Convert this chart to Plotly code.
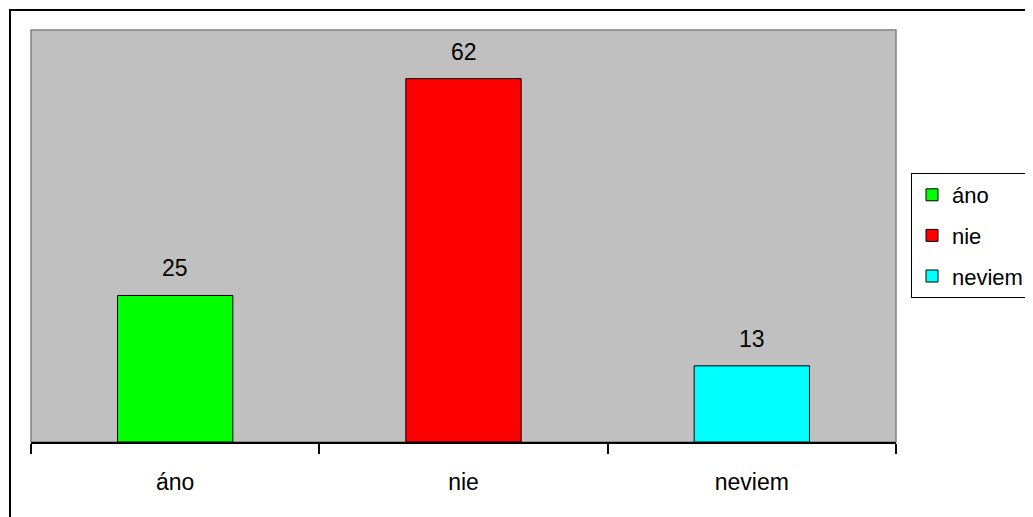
import plotly.graph_objects as go

categories = ["áno", "nie", "neviem"]
values = [25, 62, 13]
colors = ["#00FF00", "#FF0000", "#00FFFF"]

FONT = "Liberation Sans, Arial, sans-serif"

fig = go.Figure()
for i, (c, v, col) in enumerate(zip(categories, values, colors)):
    fig.add_trace(go.Bar(
        x=[c], y=[v], name=c, width=0.4,
        marker=dict(color=col, line=dict(color="black", width=1)),
        legendgroup=c,
    ))
    fig.add_annotation(x=c, y=v, text=str(v), showarrow=False,
                       yanchor="bottom", yshift=12,
                       font=dict(family=FONT, size=23, color="black"))

# page body has an 8px margin, so the figure is offset by 8px
OFF = 8
W, H = 1033 - OFF, 517 - OFF
L, R, T, B = 31 - OFF, 137, 30 - OFF, 75
pw, ph = W - L - R, H - T - B
bottom_abs = 442  # absolute y of x-axis

fig.update_layout(
    width=W, height=H,
    margin=dict(l=L, r=R, t=T, b=B, pad=0, autoexpand=False),
    paper_bgcolor="white",
    plot_bgcolor="#C0C0C0",
    barmode="overlay",
    font=dict(family=FONT, size=23, color="black"),
    showlegend=True,
    legend=dict(
        x=(911 - 31) / pw, xanchor="left",
        y=(bottom_abs - 173) / ph, yanchor="top",
        bgcolor="white", bordercolor="black", borderwidth=1,
        font=dict(family=FONT, size=22, color="black"),
        tracegroupgap=9,
    ),
    xaxis=dict(
        type="category", range=[-0.5, 2.5],
        showline=True, linecolor="black", linewidth=1.5,
        ticks="outside", tickson="boundaries", ticklen=10,
        tickcolor="black", tickwidth=1.5,
        showgrid=False, zeroline=False,
        ticklabelstandoff=19,
        tickfont=dict(family=FONT, size=23, color="black"),
    ),
    yaxis=dict(
        range=[0, 70.3], showgrid=False, zeroline=False,
        showticklabels=False, ticks="", showline=False,
    ),
    shapes=[
        dict(type="rect", xref="paper", yref="paper", x0=0, x1=1, y0=0, y1=1,
             line=dict(color="#808080", width=1.5), layer="below"),
        dict(type="rect", xref="paper", yref="paper",
             x0=(10 - 31) / pw, x1=1.3, y0=-0.5, y1=(bottom_abs - 10) / ph,
             line=dict(color="black", width=2), layer="above"),
    ],
)

fig.write_html("out.html")
